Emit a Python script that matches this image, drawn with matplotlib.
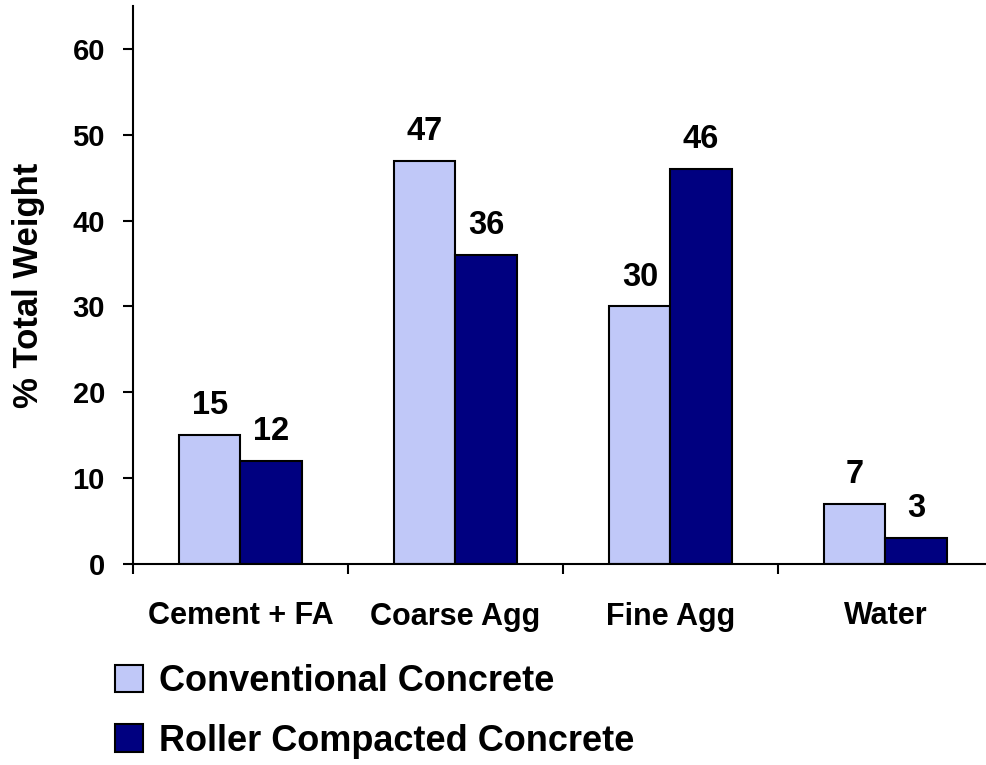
import matplotlib
matplotlib.use("Agg")
import matplotlib.pyplot as plt
import numpy as np
from matplotlib.patches import Patch
from matplotlib.ticker import FixedLocator

plt.rcParams['font.family'] = ['Liberation Sans', 'DejaVu Sans']
plt.rcParams['font.weight'] = 'bold'

categories = ["Cement + FA", "Coarse Agg", "Fine Agg", "Water"]
conventional = [15, 47, 30, 7]
roller_compacted = [12, 36, 46, 3]
series_names = ["Conventional Concrete", "Roller Compacted Concrete"]
y_ticks = [0, 10, 20, 30, 40, 50, 60]

W, H = 987, 765
fig = plt.figure(figsize=(W / 100, H / 100), dpi=100)
ax = fig.add_axes([133 / W, 1 - 564 / H, 860 / W, 558 / H])

x = np.arange(len(categories))
bw = 0.284
light = "#C0C8F8"
navy = "#000080"

b1 = ax.bar(x - bw / 2, conventional, bw, color=light, edgecolor="black", linewidth=1.5)
b2 = ax.bar(x + bw / 2, roller_compacted, bw, color=navy, edgecolor="black", linewidth=1.5)

for bars, vals in ((b1, conventional), (b2, roller_compacted)):
    for rect, v in zip(bars, vals):
        ax.annotate(f"{v}", (rect.get_x() + rect.get_width() / 2, v),
                    xytext=(0, 10), textcoords="offset points",
                    ha="center", va="bottom", fontsize=23.5, fontweight="bold")

ax.set_xlim(-0.5, len(categories) - 0.5)
ax.set_ylim(0, 65)
ax.set_yticks(y_ticks)
ax.tick_params(axis="y", direction="out", length=7.2, width=1.5, pad=13, labelsize=21)
ax.set_xticks(x)
ax.set_xticklabels(categories)
ax.tick_params(axis="x", which="major", length=0, pad=27, labelsize=22)
ax.xaxis.set_minor_locator(FixedLocator(np.arange(len(categories) + 1) - 0.5))
ax.tick_params(axis="x", which="minor", direction="out", length=7.2, width=1.5)
for lab in ax.get_xticklabels() + ax.get_yticklabels():
    lab.set_fontweight("bold")

for s in ("top", "right"):
    ax.spines[s].set_visible(False)
for s in ("left", "bottom"):
    ax.spines[s].set_linewidth(1.5)

fig.text(29 / W, 1 - 285 / H, "% Total Weight", rotation=90, ha="center", va="center",
         fontsize=25, fontweight="bold")

handles = [Patch(facecolor=light, edgecolor="black", linewidth=1.5),
           Patch(facecolor=navy, edgecolor="black", linewidth=1.5)]
fig.legend(handles, series_names, loc="upper left", bbox_to_anchor=(115 / W, 1 - 664 / H),
           frameon=False, prop={"size": 26, "weight": "bold"},
           handlelength=0.78, handleheight=0.78, handletextpad=0.45, labelspacing=0.68,
           borderaxespad=0, borderpad=0)

fig.savefig("out.png", dpi=100)
